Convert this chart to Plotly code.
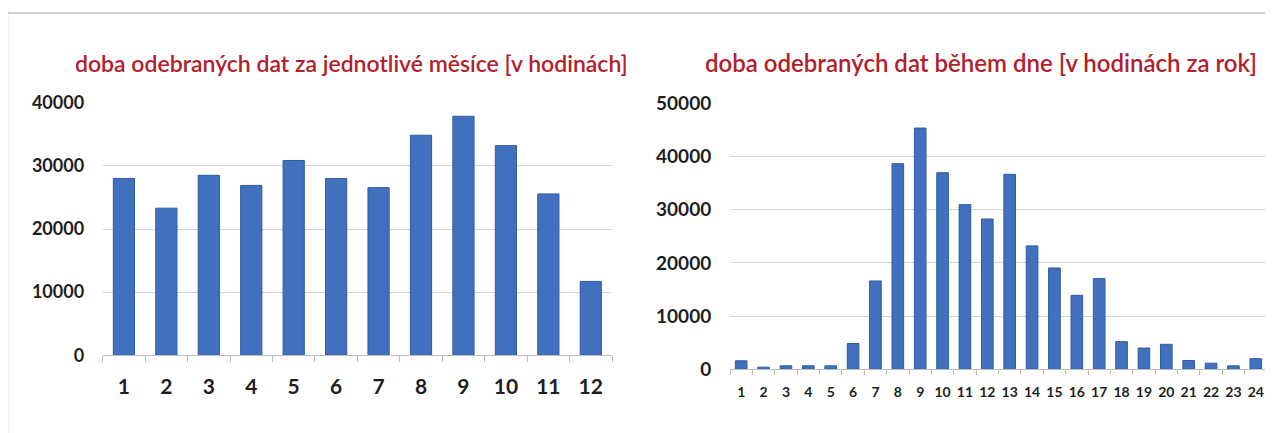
import plotly.graph_objects as go

# ---- data ----
months = ["1", "2", "3", "4", "5", "6", "7", "8", "9", "10", "11", "12"]
month_hours = [28000, 23300, 28500, 26900, 30850, 28000, 26550, 34850, 37850, 33200, 25550, 11700]

hours = [str(h) for h in range(1, 25)]
hour_hours = [1600, 400, 650, 650, 650, 4850, 16600, 38650, 45350, 36950, 30950, 28250,
              36650, 23200, 19050, 13900, 17050, 5200, 4000, 4700, 1650, 1150, 650, 2000]

title_left = "doba odebraných dat za jednotlivé měsíce [v hodinách]"
title_right = "doba odebraných dat během dne [v hodinách za rok]"

W, H = 1273, 433
OX, OY = 8, 8  # page body offset
BAR = "#4070BE"
BAR_EDGE = "#2F5CA6"
GRID = "#d4d4d4"
AXIS = "#bdbdbd"
TITLE_C = "#B3202B"
TXT = "#1e1e1e"
FONT = "Lato"


def px(x):
    return (x - OX) / W


def py(y):
    return (H - (y - OY)) / H


fig = go.Figure()
fig.add_trace(go.Bar(x=months, y=month_hours, xaxis="x", yaxis="y", width=0.5,
                     marker=dict(color=BAR, line=dict(color=BAR_EDGE, width=1)),
                     showlegend=False, hoverinfo="x+y"))
fig.add_trace(go.Bar(x=hours, y=hour_hours, xaxis="x2", yaxis="y2", width=0.52,
                     marker=dict(color=BAR, line=dict(color=BAR_EDGE, width=1)),
                     showlegend=False, hoverinfo="x+y"))

fig.update_layout(
    width=W, height=H,
    margin=dict(l=0, r=0, t=0, b=0, autoexpand=False),
    paper_bgcolor="white", plot_bgcolor="white",
    xaxis=dict(domain=[px(102.7), px(612)], anchor="y", type="category", automargin=False,
               showline=True, linecolor=AXIS, linewidth=1,
               ticks="outside", tickson="boundaries", ticklen=6, tickcolor=AXIS,
               tickangle=0, ticklabelstandoff=12,
               tickfont=dict(family=FONT, size=21, color=TXT, weight="bold"),
               showgrid=False),
    yaxis=dict(domain=[py(355.3), py(102.7)], anchor="x", range=[0, 40000], automargin=False,
               tickvals=[0, 10000, 20000, 30000, 40000],
               ticktext=["0", "10000", "20000", "30000", "40000"],
               showgrid=True, gridcolor=GRID, gridwidth=1,
               zeroline=False, showline=False,
               ticks="outside", ticklen=14, tickcolor="rgba(0,0,0,0)",
               tickfont=dict(family=FONT, size=18, color=TXT, weight="bold")),
    xaxis2=dict(domain=[px(730), px(1267)], anchor="y2", type="category", automargin=False,
                showline=True, linecolor=AXIS, linewidth=1,
                ticks="outside", tickson="boundaries", ticklen=5, tickcolor=AXIS,
                tickangle=0, ticklabelstandoff=10,
                tickfont=dict(family=FONT, size=14, color=TXT, weight="bold"),
                showgrid=False),
    yaxis2=dict(domain=[py(369.3), py(103.3)], anchor="x2", range=[0, 50000], automargin=False,
                tickvals=[0, 10000, 20000, 30000, 40000, 50000],
                ticktext=["0", "10000", "20000", "30000", "40000", "50000"],
                showgrid=True, gridcolor=GRID, gridwidth=1,
                zeroline=False, showline=False,
                ticks="outside", ticklen=14, tickcolor="rgba(0,0,0,0)",
                tickfont=dict(family=FONT, size=19, color=TXT, weight="bold")),
    annotations=[
        dict(text=title_left, xref="paper", yref="paper", x=px(351), y=py(63),
             xanchor="center", yanchor="middle", showarrow=False,
             font=dict(family=FONT, size=23, color=TITLE_C, weight=600)),
        dict(text=title_right, xref="paper", yref="paper", x=px(981), y=py(63),
             xanchor="center", yanchor="middle", showarrow=False,
             font=dict(family=FONT, size=24, color=TITLE_C, weight=600)),
    ],
    shapes=[
        dict(type="line", xref="paper", yref="paper", x0=px(7.5), x1=1, y0=py(13), y1=py(13),
             line=dict(color="#c4c4c4", width=1.5)),
        dict(type="line", xref="paper", yref="paper", x0=px(7.5), x1=px(7.5), y0=py(13), y1=0,
             line=dict(color="#c4c4c4", width=1.5)),
    ],
)

fig.write_html("out.html")
